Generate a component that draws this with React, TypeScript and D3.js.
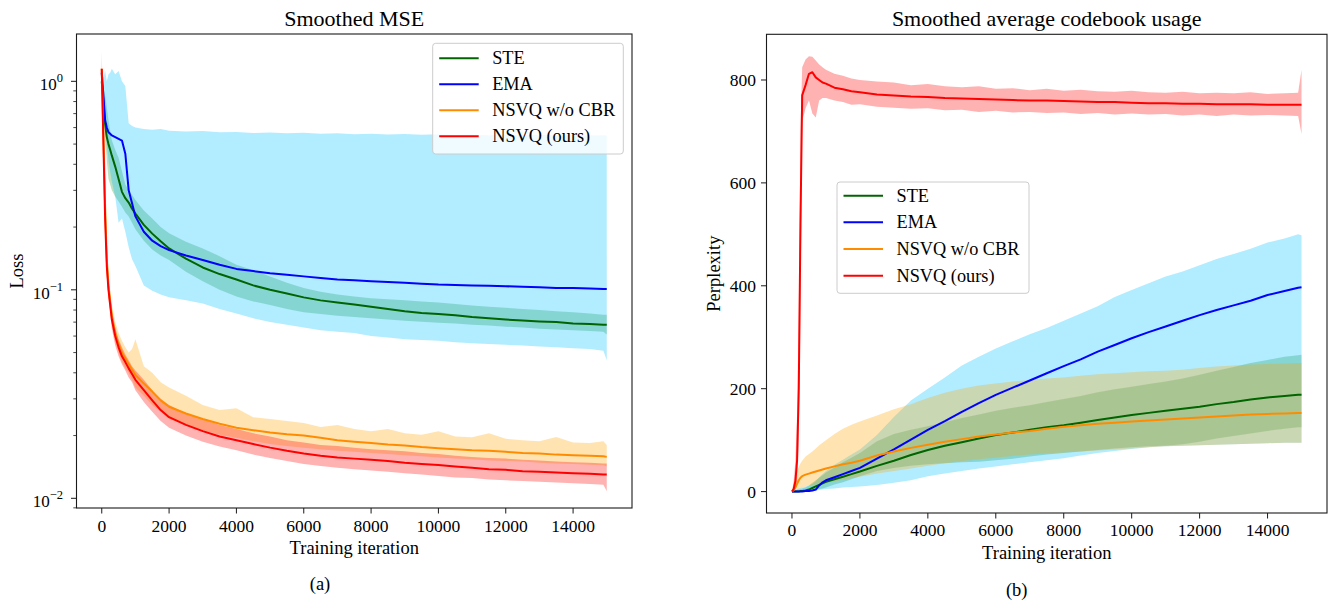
import React from "react";
import * as d3 from "d3";

// ---------------- DATA ----------------
// iteration grid: 0-300 (7) | 400-1000 (7) | 1250-1750 (3) | 2000-14500 (26) | 14900, 15000
const iterations = [
  0, 50, 100, 150, 200, 250, 300,
  400, 500, 600, 700, 800, 900, 1000,
  1250, 1500, 1750,
  2000, 2500, 3000, 3500, 4000, 4500, 5000, 5500, 6000, 6500, 7000, 7500, 8000, 8500, 9000, 9500, 10000, 10500, 11000, 11500, 12000, 12500, 13000, 13500, 14000, 14500,
  14900, 15000,
];

const seriesNames = ["STE", "EMA", "NSVQ w/o CBR", "NSVQ (ours)"];
const xTicks = [0, 2000, 4000, 6000, 8000, 10000, 12000, 14000];
const lossDecades = [0, -1, -2];
const perplexityTicks = [0, 200, 400, 600, 800];

// ---- (a) Smoothed MSE (loss) ----
const mseSteMean = [
  1.0, 0.8, 0.62, 0.54, 0.5, 0.47, 0.44,
  0.39, 0.34, 0.295, 0.275, 0.262, 0.245, 0.232,
  0.205, 0.186, 0.171,
  0.158, 0.141, 0.128, 0.119, 0.112, 0.105, 0.1, 0.096, 0.092, 0.089, 0.087, 0.085, 0.083, 0.081, 0.079, 0.0775, 0.0765, 0.0755, 0.074, 0.073, 0.072, 0.0712, 0.0705, 0.07, 0.069, 0.0685,
  0.068, 0.068,
];
const mseSteHi = [
  1.05, 0.95, 0.85, 0.75, 0.65, 0.58, 0.52,
  0.47, 0.43, 0.37, 0.32, 0.3, 0.285, 0.27,
  0.24, 0.22, 0.2,
  0.187, 0.17, 0.158, 0.145, 0.132, 0.124, 0.116, 0.108, 0.102, 0.098, 0.095, 0.093, 0.091, 0.09, 0.089, 0.088, 0.087, 0.0855, 0.084, 0.083, 0.082, 0.081, 0.08, 0.079, 0.078, 0.077,
  0.076, 0.076,
];
const mseSteLo = [
  0.95, 0.72, 0.52, 0.42, 0.34, 0.32, 0.3,
  0.28, 0.265, 0.25, 0.235, 0.225, 0.21, 0.195,
  0.172, 0.156, 0.146,
  0.139, 0.122, 0.11, 0.1, 0.093, 0.088, 0.0845, 0.081, 0.078, 0.0765, 0.075, 0.074, 0.073, 0.072, 0.071, 0.0703, 0.0695, 0.069, 0.068, 0.0675, 0.0665, 0.066, 0.065, 0.0645, 0.064, 0.0635,
  0.063, 0.061,
];
const mseEmaMean = [
  1.1, 0.85, 0.65, 0.6, 0.57, 0.56, 0.55,
  0.54, 0.53, 0.52, 0.45, 0.3, 0.26, 0.225,
  0.19, 0.172, 0.162,
  0.155, 0.146, 0.139, 0.132, 0.126, 0.123, 0.12, 0.118, 0.116, 0.114, 0.112, 0.111, 0.11, 0.109, 0.108, 0.107, 0.106, 0.1055, 0.105, 0.1045, 0.104, 0.1035, 0.103, 0.102, 0.102, 0.1015,
  0.101, 0.101,
];
const mseEmaHi = [
  1.15, 1.05, 1.12, 1.0, 1.08, 1.1, 1.15,
  1.08, 1.12, 1.0, 0.95, 0.63, 0.61, 0.6,
  0.59, 0.585, 0.59,
  0.58, 0.575, 0.578, 0.57, 0.572, 0.565, 0.568, 0.563, 0.566, 0.56, 0.563, 0.558, 0.561, 0.556, 0.559, 0.555, 0.558, 0.553, 0.556, 0.552, 0.555, 0.551, 0.554, 0.55, 0.553, 0.55,
  0.552, 0.55,
];
const mseEmaLo = [
  1.0, 0.78, 0.6, 0.5, 0.42, 0.37, 0.33,
  0.28, 0.21, 0.22, 0.19, 0.16, 0.14, 0.13,
  0.105, 0.099, 0.095,
  0.092, 0.089, 0.086, 0.081, 0.077, 0.073, 0.07, 0.068, 0.066, 0.064, 0.063, 0.062, 0.06, 0.059, 0.058, 0.0575, 0.057, 0.056, 0.0555, 0.055, 0.0545, 0.054, 0.0535, 0.053, 0.0525, 0.052,
  0.051, 0.046,
];
const mseNoCbrMean = [
  1.15, 0.55, 0.25, 0.14, 0.105, 0.088, 0.075,
  0.062, 0.055, 0.05, 0.047, 0.044, 0.0415, 0.039,
  0.0355, 0.0325, 0.0295,
  0.0275, 0.0255, 0.024, 0.0228, 0.0218, 0.0212, 0.0207, 0.0203, 0.02, 0.0195, 0.019, 0.0187, 0.0184, 0.0181, 0.0179, 0.0176, 0.0174, 0.0172, 0.017, 0.0169, 0.0167, 0.0165, 0.0164, 0.0162, 0.0161, 0.016,
  0.0159, 0.0158,
];
const mseNoCbrHi = [
  1.25, 0.6, 0.28, 0.16, 0.12, 0.1, 0.085,
  0.07, 0.062, 0.057, 0.053, 0.05, 0.052, 0.058,
  0.043, 0.04, 0.036,
  0.034, 0.031, 0.028, 0.0265, 0.027, 0.0245, 0.024, 0.0235, 0.023, 0.022, 0.0225, 0.0215, 0.021, 0.0215, 0.0205, 0.0202, 0.021, 0.0198, 0.0196, 0.0205, 0.0193, 0.019, 0.0188, 0.0197, 0.0185, 0.0184,
  0.0188, 0.018,
];
const mseNoCbrLo = [
  1.05, 0.5, 0.22, 0.125, 0.095, 0.08, 0.068,
  0.056, 0.05, 0.045, 0.042, 0.04, 0.037, 0.034,
  0.031, 0.028, 0.026,
  0.024, 0.0225, 0.0212, 0.0202, 0.0195, 0.0188, 0.0182, 0.0178, 0.0175, 0.0172, 0.0169, 0.0167, 0.0165, 0.0163, 0.0161, 0.0159, 0.0157, 0.0155, 0.0154, 0.0152, 0.0151, 0.015, 0.0148, 0.0147, 0.0146, 0.0145,
  0.0144, 0.0142,
];
const mseOursMean = [
  1.15, 0.5, 0.22, 0.13, 0.1, 0.085, 0.072,
  0.06, 0.053, 0.048, 0.045, 0.042, 0.0395, 0.037,
  0.033, 0.0295, 0.0265,
  0.0245, 0.0225, 0.021, 0.0198, 0.019, 0.0182, 0.0175, 0.0169, 0.0164, 0.016, 0.0157, 0.0155, 0.0153, 0.0151, 0.0148, 0.0146, 0.01445, 0.0142, 0.014, 0.0138, 0.0137, 0.0135, 0.0134, 0.0133, 0.0132, 0.0131,
  0.013, 0.013,
];
const mseOursHi = [
  1.4, 0.55, 0.25, 0.15, 0.11, 0.095, 0.08,
  0.066, 0.058, 0.053, 0.049, 0.046, 0.043, 0.041,
  0.037, 0.033, 0.03,
  0.028, 0.0255, 0.024, 0.0225, 0.0215, 0.0205, 0.0198, 0.019, 0.0185, 0.018, 0.0178, 0.0175, 0.0172, 0.017, 0.0168, 0.0165, 0.0163, 0.016, 0.0158, 0.0156, 0.0155, 0.0153, 0.0152, 0.015, 0.0149, 0.0148,
  0.0147, 0.0147,
];
const mseOursLo = [
  1.0, 0.45, 0.19, 0.115, 0.09, 0.077, 0.065,
  0.054, 0.048, 0.044, 0.041, 0.038, 0.036, 0.033,
  0.029, 0.026, 0.0235,
  0.0218, 0.02, 0.0187, 0.0177, 0.017, 0.0162, 0.0156, 0.0151, 0.0146, 0.0143, 0.014, 0.0138, 0.0136, 0.0134, 0.0132, 0.013, 0.0128, 0.0126, 0.0125, 0.0123, 0.0122, 0.0121, 0.012, 0.0119, 0.0118, 0.0117,
  0.0116, 0.0108,
];

// ---- (b) Smoothed average codebook usage (perplexity) ----
const pplSteMean = [
  0, 0, 0, 0, 0, 1, 1,
  2, 4, 7, 10, 13, 16, 19,
  24, 29, 34,
  39, 50, 60, 71, 81, 89, 96, 103, 110, 115, 120, 125, 129, 134, 139, 144, 149, 153, 157, 161, 165, 170, 174, 179, 183, 186,
  188, 188,
];
const pplSteHi = [
  0, 1, 2, 3, 4, 5, 6,
  8, 12, 17, 22, 27, 32, 37,
  47, 57, 66,
  75, 98, 112, 120, 127, 135, 143, 150, 157, 163, 168, 174, 180, 186, 193, 199, 204, 209, 214, 220, 227, 235, 242, 250, 256, 262,
  265, 266,
];
const pplSteLo = [
  0, 0, 0, 0, 0, 0, 0,
  0, 1, 2, 4, 5, 6, 8,
  14, 18, 24,
  30, 40, 46, 50, 53, 55, 57, 58, 61, 64, 68, 72, 75, 78, 81, 84, 86, 88, 89, 92, 97, 103, 108, 113, 118, 122,
  125, 125,
];
const pplEmaMean = [
  0, 0, 0, 0, 0, 0, 0,
  1, 1, 2, 4, 12, 18, 22,
  28, 34, 40,
  46, 64, 82, 101, 120, 137, 155, 172, 188, 202, 216, 230, 244, 257, 272, 285, 298, 310, 321, 332, 343, 353, 362, 371, 382, 390,
  396, 397,
];
const pplEmaHi = [
  0, 2, 3, 5, 6, 7, 8,
  10, 12, 15, 20, 28, 34, 40,
  52, 62, 72,
  82, 110, 145, 177, 200, 222, 245, 262, 278, 292, 306, 318, 332, 346, 360, 378, 392, 405, 418, 428, 440, 452, 462, 472, 484, 492,
  500, 498,
];
const pplEmaLo = [
  0, 0, 0, 0, 0, 0, 0,
  0, 0, 1, 2, 3, 4, 5,
  6, 8, 9,
  10, 13, 17, 22, 30, 35, 40, 45, 49, 53, 57, 61, 65, 70, 75, 79, 83, 86, 88, 89, 90, 91, 92, 93, 94, 95,
  95, 95,
];
const pplNoCbrMean = [
  0, 3, 8, 15, 22, 27, 30,
  33, 35, 37, 39, 41, 43, 45,
  49, 53, 56,
  60, 70, 78, 85, 91, 97, 102, 107, 111, 115, 118, 122, 126, 129, 132, 134, 136, 138, 140, 142, 144, 146, 148, 150, 151, 152,
  153, 153,
];
const pplNoCbrHi = [
  0, 15, 30, 40, 48, 55, 60,
  68, 73, 78, 84, 90, 95, 100,
  112, 122, 130,
  136, 148, 160, 170, 182, 192, 200, 206, 210, 214, 217, 220, 222, 225, 228, 230, 232, 234, 235, 237, 240, 243, 245, 247, 248, 249,
  250, 250,
];
const pplNoCbrLo = [
  0, 0, 1, 2, 4, 6, 8,
  10, 12, 13, 14, 15, 16, 17,
  20, 23, 26,
  29, 35, 40, 45, 50, 55, 59, 63, 66, 69, 72, 74, 76, 78, 80, 82, 84, 86, 88, 89, 90, 91, 92, 93, 94, 95,
  95, 95,
];
const pplOursMean = [
  0, 5, 20, 60, 200, 520, 770,
  790, 812, 815, 805, 800, 795, 793,
  785, 782, 778,
  776, 772, 770, 768, 767, 765, 764, 763, 762, 761, 760, 760, 759, 758, 757, 757, 756, 755, 755, 754, 754, 753, 753, 753, 752, 752,
  752, 752,
];
const pplOursHi = [
  0, 20, 60, 150, 350, 700, 825,
  840, 846, 845, 838, 830, 825, 820,
  812, 808, 803,
  800, 797, 795, 790, 792, 788, 786, 788, 783, 784, 780, 783, 779, 781, 778, 777, 779, 776, 775, 777, 774, 775, 774, 776, 773, 774,
  775, 820,
];
const pplOursLo = [
  0, 0, 5, 20, 100, 350, 720,
  745, 760, 735, 727, 760, 765, 765,
  760, 757, 752,
  753, 748, 746, 744, 745, 741, 742, 738, 740, 737, 738, 736, 737, 734, 736, 733, 735, 733, 734, 731, 733, 730, 733, 731, 732, 731,
  730, 695,
];

// ---------------- STYLE ----------------
const FONT = "'Liberation Serif','Times New Roman',Times,serif";
const lineColors = ["#006400", "#0000ff", "#ff8c00", "#ff0000"];
const fillColors = ["#008000", "#00bfff", "#ffa500", "#ff0000"];
const fillOpacities = [0.25, 0.3, 0.3, 0.3];

type S = { mean: number[]; hi: number[]; lo: number[] };

const mseSeries: S[] = [
  { mean: mseSteMean, hi: mseSteHi, lo: mseSteLo },
  { mean: mseEmaMean, hi: mseEmaHi, lo: mseEmaLo },
  { mean: mseNoCbrMean, hi: mseNoCbrHi, lo: mseNoCbrLo },
  { mean: mseOursMean, hi: mseOursHi, lo: mseOursLo },
];
const pplSeries: S[] = [
  { mean: pplSteMean, hi: pplSteHi, lo: pplSteLo },
  { mean: pplEmaMean, hi: pplEmaHi, lo: pplEmaLo },
  { mean: pplNoCbrMean, hi: pplNoCbrHi, lo: pplNoCbrLo },
  { mean: pplOursMean, hi: pplOursHi, lo: pplOursLo },
];

function Legend({ x, y, w, h, rows }: { x: number; y: number; w: number; h: number; rows: number[] }) {
  return (
    <g>
      <rect x={x} y={y} width={w} height={h} rx={3} ry={3} fill="#ffffff" fillOpacity={0.8} stroke="#cccccc" strokeWidth={1} />
      {seriesNames.map((n, i) => (
        <g key={n}>
          <line x1={x + 6.5} x2={x + 46} y1={rows[i]} y2={rows[i]} stroke={lineColors[i]} strokeWidth={2} />
          <text x={x + 59.5} y={rows[i] + 6} fontSize={18.3} fontFamily={FONT} fill="#000">
            {n}
          </text>
        </g>
      ))}
    </g>
  );
}

function Bands({ series, x, y, clip }: { series: S[]; x: any; y: any; clip: string }) {
  const area = (s: S) =>
    d3
      .area<number>()
      .x((i) => x(iterations[i]))
      .y0((i) => y(s.lo[i]))
      .y1((i) => y(s.hi[i]))(iterations.map((_, i) => i)) || "";
  const line = (s: S) =>
    d3
      .line<number>()
      .x((i) => x(iterations[i]))
      .y((i) => y(s.mean[i]))(iterations.map((_, i) => i)) || "";
  return (
    <g clipPath={`url(#${clip})`}>
      {series.map((s, i) => (
        <path key={"a" + i} d={area(s)} fill={fillColors[i]} fillOpacity={fillOpacities[i]} stroke="none" />
      ))}
      {series.map((s, i) => (
        <path key={"l" + i} d={line(s)} fill="none" stroke={lineColors[i]} strokeWidth={2} strokeLinejoin="round" />
      ))}
    </g>
  );
}

export default function App() {
  // (a) panel
  const aL = 76.5, aR = 632, aT = 34, aB = 508;
  const xA = d3.scaleLinear().domain([-750, 15750]).range([aL, aR]);
  const yA = d3.scaleLog().domain([Math.pow(10, -2.0465), Math.pow(10, 0.227)]).range([aB, aT]);
  // (b) panel
  const bL = 766.5, bR = 1327, bT = 34.3, bB = 513;
  const xB = d3.scaleLinear().domain([-750, 15750]).range([bL, bR]);
  const yB = d3.scaleLinear().domain([-41.6, 888.8]).range([bB, bT]);

  const minorA = yA.ticks().filter((v: number) => Math.abs(Math.log10(v) - Math.round(Math.log10(v))) > 1e-6);
  const axisColor = "#1a1a1a";

  return (
    <svg width={1330} height={603} style={{ position: "absolute", left: 0, top: 0, background: "#fff" }} fontFamily={FONT}>
      <defs>
        <clipPath id="clipA">
          <rect x={aL} y={aT} width={aR - aL} height={aB - aT} />
        </clipPath>
        <clipPath id="clipB">
          <rect x={bL} y={bT} width={bR - bL} height={bB - bT} />
        </clipPath>
      </defs>
      <rect x={0} y={0} width={1330} height={603} fill="#fff" />

      {/* ---------- Panel (a) ---------- */}
      <Bands series={mseSeries} x={xA} y={yA} clip="clipA" />
      <Legend x={432.7} y={43.3} w={190.6} h={110.7} rows={[58.3, 84.3, 110.3, 136.3]} />
      <rect x={aL} y={aT} width={aR - aL} height={aB - aT} fill="none" stroke={axisColor} strokeWidth={1.1} />
      {xTicks.map((t) => (
        <g key={"xa" + t}>
          <line x1={xA(t)} x2={xA(t)} y1={aB} y2={aB + 5.5} stroke={axisColor} strokeWidth={1} />
          <text x={xA(t)} y={aB + 23.7} textAnchor="middle" fontSize={17.5}>
            {t}
          </text>
        </g>
      ))}
      {lossDecades.map((d) => (
        <g key={"ya" + d}>
          <line x1={aL - 5.5} x2={aL} y1={yA(Math.pow(10, d))} y2={yA(Math.pow(10, d))} stroke={axisColor} strokeWidth={1} />
          <text x={63} y={yA(Math.pow(10, d)) + 9} textAnchor="end" fontSize={17}>
            10
            <tspan fontSize={12.5} dy={-8}>
              {d === 0 ? "0" : "\u2212" + Math.abs(d)}
            </tspan>
          </text>
        </g>
      ))}
      {minorA.map((v: number, i: number) => (
        <line key={"ma" + i} x1={aL - 3.2} x2={aL} y1={yA(v)} y2={yA(v)} stroke={axisColor} strokeWidth={0.8} />
      ))}
      <text x={(aL + aR) / 2} y={26} textAnchor="middle" fontSize={22}>
        Smoothed MSE
      </text>
      <text x={(aL + aR) / 2} y={554} textAnchor="middle" fontSize={18.5}>
        Training iteration
      </text>
      <text transform={`translate(23,${(aT + aB) / 2}) rotate(-90)`} textAnchor="middle" fontSize={18.5}>
        Loss
      </text>
      <text x={320} y={590} textAnchor="middle" fontSize={18.5}>
        (a)
      </text>

      {/* ---------- Panel (b) ---------- */}
      <Bands series={pplSeries} x={xB} y={yB} clip="clipB" />
      <Legend x={837} y={182} w={192} h={111.3} rows={[195.7, 222.3, 249, 275.7]} />
      <rect x={bL} y={bT} width={bR - bL} height={bB - bT} fill="none" stroke={axisColor} strokeWidth={1.1} />
      {xTicks.map((t) => (
        <g key={"xb" + t}>
          <line x1={xB(t)} x2={xB(t)} y1={bB} y2={bB + 5.5} stroke={axisColor} strokeWidth={1} />
          <text x={xB(t)} y={bB + 23} textAnchor="middle" fontSize={17.5}>
            {t}
          </text>
        </g>
      ))}
      {perplexityTicks.map((t) => (
        <g key={"yb" + t}>
          <line x1={bL - 5.5} x2={bL} y1={yB(t)} y2={yB(t)} stroke={axisColor} strokeWidth={1} />
          <text x={bL - 10.5} y={yB(t) + 6} textAnchor="end" fontSize={17.5}>
            {t}
          </text>
        </g>
      ))}
      <text x={(bL + bR) / 2} y={26} textAnchor="middle" fontSize={22}>
        Smoothed average codebook usage
      </text>
      <text x={(bL + bR) / 2} y={558.5} textAnchor="middle" fontSize={18.5}>
        Training iteration
      </text>
      <text transform={`translate(719.5,${(bT + bB) / 2}) rotate(-90)`} textAnchor="middle" fontSize={18.5}>
        Perplexity
      </text>
      <text x={1016.7} y={596} textAnchor="middle" fontSize={18.5}>
        (b)
      </text>
    </svg>
  );
}
